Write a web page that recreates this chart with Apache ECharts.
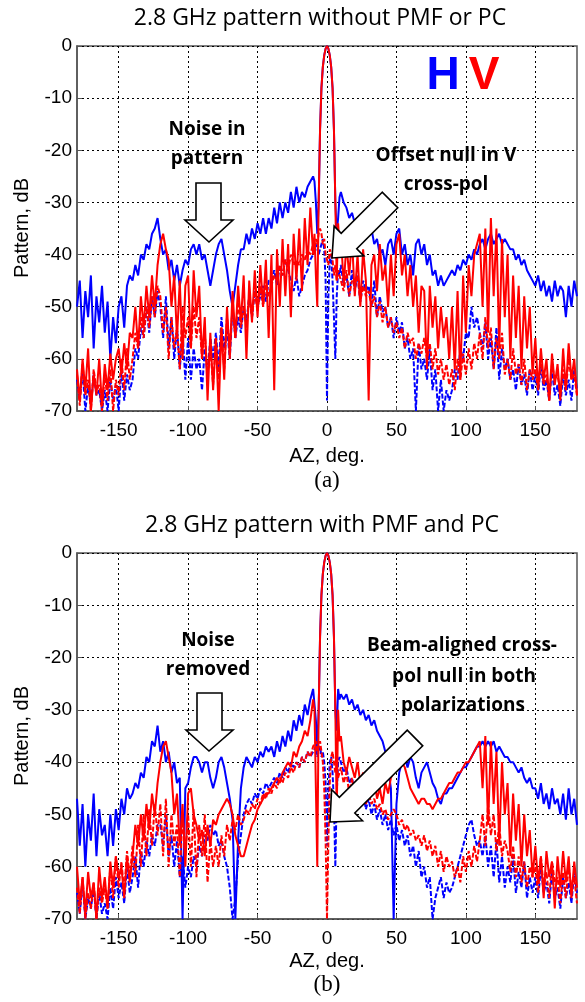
<!DOCTYPE html>
<html><head><meta charset="utf-8">
<script src="https://cdn.jsdelivr.net/npm/echarts@6/dist/echarts.min.js"></script>
<style>html,body{margin:0;padding:0;background:#fff}#c{width:585px;height:1002px}</style>
</head><body><div id="c"></div>
<script>
// Azimuth sample positions (deg)
const azDeg = [
-180,-178,-176,-174,-172,-170,-168,-166,-164,-162,
-160,-158,-156,-154,-152,-150,-148,-146,-144,-142,
-140,-138,-136,-134,-132,-130,-128,-126,-124,-122,
-120,-118,-116,-114,-112,-110,-108,-106,-104,-102,
-100,-98,-96,-94,-92,-90,-88,-86,-84,-82,
-80,-78,-76,-74,-72,-70,-68,-66,-64,-62,
-60,-58,-56,-54,-52,-50,-48,-46,-44,-42,
-40,-38,-36,-34,-32,-30,-28,-26,-24,-22,
-20,-18,-16,-14,-12,-10,
-9,-8,-7,-6,-5,-4,-3,-2,-1,0,1,2,3,4,5,6,7,8,9,
10,12,14,16,18,20,22,24,26,28,
30,32,34,36,38,40,42,44,46,48,
50,52,54,56,58,60,62,64,66,68,
70,72,74,76,78,80,82,84,86,88,
90,92,94,96,98,100,102,104,106,108,
110,112,114,116,118,120,122,124,126,128,
130,132,134,136,138,140,142,144,146,148,
150,152,154,156,158,160,162,164,166,168,
170,172,174,176,178,180];

const xTickVals = [-150,-100,-50,0,50,100,150];

// (a) without PMF or PC
const hCoA = [
-50,-45,-56,-47,-52,-44,-58,-48,-53,-46,
-55,-49,-60,-52,-57,-50,-48,-54,-46,-44,
-45,-42,-44,-40,-41,-38,-39,-36,-35,-33,
-37,-40,-39,-43,-41,-45,-42,-46,-43,-41,
-42,-39,-38,-40,-38,-41,-40,-43,-46,-43,
-40,-38,-37,-40,-43,-47,-50,-46,-42,-39,
-39,-36,-38,-35,-37,-34,-36,-33,-36,-33,
-35,-31,-34,-30,-33,-30,-32,-28,-31,-27,
-30,-28,-29,-27,-26,-25,
-26,-30,-36,-30,-16,-8,-4,-1.8,-0.5,0,-0.5,-1.8,-4,-8,-16,-30,-36,-33,-29,
-28,-30,-31,-33,-32,-34,-33,-35,-34,-37,
-36,-35,-38,-37,-40,-39,-42,-38,-37,-40,
-36,-35,-40,-38,-42,-40,-44,-38,-37,-40,
-38,-42,-40,-44,-43,-46,-44,-46,-45,-44,
-43,-44,-42,-43,-41,-42,-40,-41,-39,-40,
-38,-37,-39,-37,-36,-38,-37,-36,-38,-37,
-38,-39,-39,-41,-40,-42,-41,-43,-44,-45,
-46,-44,-47,-45,-48,-46,-49,-45,-48,-46,
-47,-52,-46,-50,-45,-48];
const vCoA = [
-62,-68,-60,-66,-58,-70,-63,-67,-60,-69,
-61,-66,-59,-64,-60,-58,-63,-57,-62,-55,
-56,-50,-58,-48,-54,-46,-52,-44,-50,-42,
-38,-36,-39,-41,-50,-44,-56,-45,-60,-46,
-44,-58,-43,-52,-46,-60,-52,-68,-55,-66,
-56,-70,-54,-64,-50,-60,-47,-56,-46,-53,
-44,-60,-45,-53,-43,-52,-42,-50,-41,-56,
-40,-66,-39,-50,-37,-48,-38,-52,-36,-45,
-35,-47,-33,-42,-31,-40,
-36,-44,-50,-30,-16,-8,-4,-1.8,-0.5,0,-0.5,-1.8,-4,-8,-16,-30,-45,-34,-38,
-36,-46,-38,-44,-37,-48,-40,-50,-39,-45,
-68,-42,-40,-47,-38,-45,-42,-50,-40,-48,
-38,-36,-44,-40,-48,-42,-50,-44,-55,-46,
-47,-62,-46,-54,-48,-58,-50,-56,-52,-60,
-50,-62,-47,-64,-44,-55,-42,-48,-40,-38,
-36,-50,-35,-55,-33,-48,-35,-58,-37,-52,
-40,-60,-44,-56,-46,-62,-48,-58,-50,-63,
-56,-66,-58,-64,-60,-68,-59,-65,-61,-68,
-58,-66,-57,-64,-60,-67];
const hXA = [
-64,-68,-62,-70,-65,-69,-63,-67,-66,-70,
-66,-70,-64,-68,-65,-70,-62,-68,-63,-66,
-64,-58,-60,-54,-56,-50,-55,-48,-52,-47,
-50,-56,-48,-58,-52,-60,-54,-62,-55,-64,
-56,-64,-58,-62,-60,-66,-58,-63,-56,-60,
-55,-62,-52,-58,-54,-60,-50,-56,-52,-55,
-50,-53,-48,-52,-47,-50,-48,-46,-49,-45,
-45,-43,-46,-42,-44,-41,-43,-45,-47,-44,
-48,-46,-44,-43,-41,-40,
-40,-39,-38,-40,-39,-38,-37,-39,-45,-68,-48,-41,-40,-45,-52,-60,-48,-43,-44,
-42,-46,-44,-48,-43,-47,-44,-49,-45,-47,
-46,-50,-45,-52,-48,-51,-50,-54,-52,-56,
-52,-55,-53,-58,-56,-60,-58,-70,-57,-62,
-60,-64,-58,-66,-62,-70,-64,-70,-66,-68,
-66,-62,-64,-58,-60,-55,-56,-50,-54,-52,
-55,-58,-53,-60,-56,-62,-54,-64,-58,-62,
-60,-64,-62,-66,-61,-65,-63,-67,-62,-66,
-63,-67,-61,-66,-64,-68,-62,-67,-65,-69,
-63,-67,-64,-68,-62,-66];
const vXA = [
-63,-69,-61,-67,-64,-70,-62,-66,-65,-70,
-63,-68,-62,-70,-64,-67,-60,-66,-58,-64,
-60,-55,-58,-52,-56,-50,-54,-48,-52,-46,
-48,-55,-50,-60,-52,-58,-54,-62,-50,-56,
-52,-58,-50,-56,-52,-60,-55,-63,-58,-65,
-56,-64,-54,-62,-52,-58,-50,-56,-49,-54,
-50,-54,-48,-52,-47,-51,-46,-50,-45,-48,
-46,-44,-45,-42,-44,-41,-43,-40,-42,-41,
-42,-40,-41,-39,-40,-38,
-39,-37,-38,-36,-35,-36,-38,-37,-40,-41,-42,-39,-40,-41,-44,-42,-45,-43,-44,
-44,-47,-43,-48,-45,-46,-44,-49,-46,-48,
-47,-50,-48,-52,-49,-53,-50,-54,-52,-55,
-53,-56,-54,-58,-55,-57,-56,-60,-57,-59,
-56,-60,-57,-62,-58,-63,-60,-64,-61,-65,
-62,-66,-60,-64,-59,-63,-58,-62,-57,-60,
-55,-60,-52,-58,-54,-62,-56,-60,-55,-63,
-60,-64,-58,-63,-61,-65,-60,-66,-62,-64,
-62,-66,-60,-65,-63,-68,-61,-64,-63,-67,
-62,-66,-60,-64,-63,-67];

// (b) with PMF and PC
const hCoB = [
-47,-56,-48,-60,-50,-55,-46,-58,-49,-54,
-52,-58,-50,-56,-49,-53,-47,-50,-45,-47,
-46,-44,-45,-42,-43,-39,-40,-36,-37,-33,
-38,-36,-40,-38,-42,-40,-44,-43,-70,-45,
-44,-41,-39,-39,-40,-42,-40,-40,-43,-45,
-43,-40,-39,-41,-44,-47,-51,-70,-55,-45,
-41,-39,-40,-41,-39,-40,-38,-39,-37,-38,
-37,-39,-36,-38,-35,-37,-34,-36,-32,-34,
-31,-33,-29,-31,-28,-26,
-26,-32,-38,-30,-16,-8,-4,-1.8,-0.5,0,-0.5,-1.8,-4,-8,-16,-30,-34,-26,-28,
-27,-28,-27,-29,-28,-30,-29,-31,-30,-32,
-31,-33,-32,-34,-35,-36,-38,-41,-45,-70,
-48,-42,-40,-39,-41,-39,-40,-43,-45,-42,
-41,-40,-42,-44,-45,-47,-48,-46,-46,-45,
-45,-44,-43,-42,-41,-41,-40,-39,-38,-37,
-37,-36,-37,-36,-37,-36,-38,-37,-38,-39,
-39,-40,-40,-41,-42,-41,-43,-44,-43,-45,
-45,-47,-44,-48,-46,-49,-45,-48,-47,-50,
-46,-51,-45,-50,-47,-52];
const vCoB = [
-60,-67,-62,-69,-61,-66,-63,-70,-60,-66,
-62,-68,-59,-64,-58,-62,-60,-66,-58,-63,
-58,-52,-56,-50,-55,-48,-53,-46,-50,-44,
-40,-37,-36,-39,-42,-50,-46,-56,-48,-60,
-46,-45,-50,-52,-55,-53,-58,-52,-56,-51,
-52,-50,-49,-48,-47,-48,-50,-54,-56,-58,
-58,-56,-54,-52,-51,-49,-48,-47,-46,-46,
-45,-44,-43,-44,-42,-41,-40,-41,-38,-39,
-37,-36,-34,-35,-32,-28,
-30,-45,-60,-30,-16,-8,-4,-1.8,-0.5,0,-0.5,-1.8,-4,-8,-16,-30,-50,-30,-36,
-35,-40,-42,-39,-41,-43,-40,-44,-42,-45,
-44,-46,-43,-47,-45,-48,-44,-46,-43,-42,
-41,-39,-40,-41,-43,-45,-46,-47,-48,-47,
-47,-48,-48,-49,-48,-47,-47,-46,-45,-44,
-44,-43,-42,-42,-41,-40,-40,-39,-38,-37,
-36,-45,-35,-52,-36,-48,-38,-56,-40,-50,
-44,-58,-46,-55,-48,-60,-50,-58,-53,-62,
-56,-63,-58,-66,-57,-62,-59,-68,-58,-64,
-57,-63,-58,-66,-59,-64];
const hXB = [
-65,-69,-63,-70,-66,-68,-64,-70,-65,-69,
-67,-70,-64,-68,-62,-66,-63,-67,-60,-65,
-62,-58,-64,-57,-60,-55,-58,-54,-56,-52,
-52,-56,-50,-58,-54,-60,-55,-62,-58,-64,
-60,-62,-58,-60,-56,-58,-54,-55,-52,-54,
-53,-56,-55,-58,-60,-64,-70,-66,-58,-54,
-50,-48,-47,-48,-46,-47,-45,-46,-44,-45,
-44,-43,-44,-42,-43,-41,-42,-40,-41,-40,
-41,-39,-40,-38,-39,-38,
-38,-37,-39,-38,-37,-39,-38,-40,-44,-56,-45,-40,-39,-42,-48,-60,-46,-40,-39,
-40,-42,-41,-44,-43,-46,-45,-48,-46,-49,
-47,-50,-48,-51,-49,-52,-50,-53,-51,-54,
-52,-55,-53,-56,-54,-58,-56,-60,-57,-62,
-60,-64,-62,-70,-66,-64,-62,-66,-63,-65,
-64,-62,-60,-58,-56,-54,-52,-51,-54,-56,
-55,-58,-54,-60,-56,-62,-55,-63,-58,-64,
-60,-63,-58,-65,-61,-64,-59,-66,-62,-65,
-62,-66,-60,-65,-63,-67,-61,-66,-64,-68,
-62,-66,-63,-67,-61,-65];
const vXB = [
-64,-69,-62,-70,-65,-68,-63,-70,-64,-67,
-64,-68,-60,-66,-58,-64,-59,-65,-57,-62,
-56,-62,-52,-60,-50,-58,-49,-56,-48,-54,
-48,-58,-47,-60,-50,-56,-52,-62,-50,-58,
-50,-60,-49,-62,-52,-58,-50,-63,-55,-60,
-56,-60,-54,-58,-52,-55,-51,-53,-50,-52,
-51,-49,-50,-48,-49,-47,-48,-46,-47,-45,
-46,-44,-45,-43,-44,-42,-43,-41,-42,-40,
-41,-39,-40,-38,-39,-37,
-37,-36,-38,-37,-36,-38,-40,-45,-55,-70,-55,-44,-39,-38,-40,-42,-41,-43,-42,
-41,-44,-42,-46,-43,-47,-44,-45,-46,-48,
-46,-48,-47,-49,-48,-50,-49,-51,-50,-49,
-50,-52,-51,-53,-52,-54,-53,-55,-54,-56,
-54,-57,-55,-58,-56,-60,-57,-61,-58,-60,
-59,-62,-60,-63,-58,-61,-57,-60,-56,-59,
-55,-50,-56,-48,-54,-50,-57,-52,-58,-55,
-57,-61,-56,-62,-58,-63,-59,-64,-60,-62,
-60,-65,-58,-64,-61,-66,-59,-63,-62,-67,
-61,-66,-60,-64,-62,-67];

const BLUE = '#0000ff', RED = '#ff0000';
const chart = echarts.init(document.getElementById('c'), null, {renderer: 'canvas'});

function pairs(v) { return azDeg.map((a, i) => [a, v[i]]); }
function mkSeries(g, name, vals, color, dashed) {
  return {
    type: 'line', name: name, xAxisIndex: g, yAxisIndex: g, data: pairs(vals),
    showSymbol: false, symbol: 'none', animation: false, silent: true, clip: true,
    lineStyle: { color: color, width: 2, type: dashed ? [5, 2] : 'solid' },
    itemStyle: { color: color }, z: 3
  };
}
const grids = [
  { left: 77, top: 46, width: 500, height: 365, show: true, borderColor: '#555', borderWidth: 1.5 },
  { left: 77, top: 553, width: 500, height: 366, show: true, borderColor: '#555', borderWidth: 1.5 }
];
const gridDot = { color: '#000', width: 1, type: [2, 3] };
const LFAM = '"Liberation Sans", Arial, sans-serif';
function mkX(g) {
  return {
    type: 'value', gridIndex: g, min: -180, max: 180,
    axisLine: { show: true, onZero: false, lineStyle: { color: '#555', width: 1.5 } },
    axisTick: { show: true, inside: true, length: 5, customValues: xTickVals, lineStyle: { color: '#555' } },
    axisLabel: { customValues: xTickVals, color: '#000', fontSize: 19, fontFamily: LFAM, margin: 10 },
    splitLine: { show: true, lineStyle: gridDot }
  };
}
function mkY(g) {
  return {
    type: 'value', gridIndex: g, min: -70, max: 0, interval: 10,
    axisLine: { show: true, onZero: false, lineStyle: { color: '#555', width: 1.5 } },
    axisTick: { show: true, inside: true, length: 5, lineStyle: { color: '#555' } },
    axisLabel: { color: '#000', fontSize: 19, fontFamily: LFAM, margin: 5 },
    splitLine: { show: true, lineStyle: gridDot }
  };
}

function arrowPts(tx, ty, px, py, s, h, L) {
  const dx = px - tx, dy = py - ty, len = Math.hypot(dx, dy);
  const ux = dx / len, uy = dy / len, nx = -uy, ny = ux;
  const bx = px - ux * L, by = py - uy * L;
  return [[tx + nx * s, ty + ny * s], [bx + nx * s, by + ny * s], [bx + nx * h, by + ny * h],
          [px, py], [bx - nx * h, by - ny * h], [bx - nx * s, by - ny * s], [tx - nx * s, ty - ny * s]];
}
function arrow(pts) {
  return { type: 'polygon', z: 100, shape: { points: pts }, style: { fill: '#fff', stroke: '#000', lineWidth: 1.6 } };
}
function txt(t, x, y, font, fill, rot) {
  const o = { type: 'text', z: 101, x: x, y: y, style: { text: t, font: font, fill: fill || '#000', align: 'center', verticalAlign: 'middle' } };
  if (rot) o.rotation = rot;
  return o;
}
const TF = '23px "Open Sans", sans-serif';
const AF = 'bold 19px "Open Sans", sans-serif';
const LF = '20px ' + LFAM;
const SF = '23px "Liberation Serif", "Times New Roman", serif';

const graphics = [
  txt('2.8 GHz pattern without PMF or PC', 320, 18, TF),
  txt('2.8 GHz pattern with PMF and PC', 322, 525, TF),
  txt('AZ, deg.', 327, 456, LF), txt('(a)', 327, 481, SF),
  txt('AZ, deg.', 327, 961, LF), txt('(b)', 327, 985, SF),
  txt('Pattern, dB', 22, 228, LF, '#000', Math.PI / 2),
  txt('Pattern, dB', 22, 736, LF, '#000', Math.PI / 2),
  txt('H', 443, 76, 'bold 46px ' + LFAM, BLUE),
  txt('V', 484, 76, 'bold 46px ' + LFAM, RED),
  txt('Noise in', 207, 130, AF), txt('pattern', 207, 159, AF),
  txt('Offset null in V', 446, 156, AF), txt('cross-pol', 446, 185, AF),
  txt('Noise', 208, 641, AF), txt('removed', 208, 670, AF),
  txt('Beam-aligned cross-', 462, 646, AF), txt('pol null in both', 464, 677, AF), txt('polarizations', 463, 706, AF),
  arrow([[196, 183], [221, 183], [221, 220], [233, 220], [209, 242], [185, 220], [196, 220]]),
  arrow([[197, 693], [222, 693], [222, 730], [233, 730], [209, 751], [186, 730], [197, 730]]),
  arrow(arrowPts(390, 200, 332, 258, 11, 21, 24)),
  arrow(arrowPts(415, 738, 330, 822, 11, 22, 24))
];

chart.setOption({
  animation: false,
  backgroundColor: '#fff',
  grid: grids,
  xAxis: [mkX(0), mkX(1)],
  yAxis: [mkY(0), mkY(1)],
  series: [
    mkSeries(0, 'H co-pol (a)', hCoA, BLUE, false),
    mkSeries(0, 'H cross-pol (a)', hXA, BLUE, true),
    mkSeries(0, 'V co-pol (a)', vCoA, RED, false),
    mkSeries(0, 'V cross-pol (a)', vXA, RED, true),
    mkSeries(1, 'H co-pol (b)', hCoB, BLUE, false),
    mkSeries(1, 'H cross-pol (b)', hXB, BLUE, true),
    mkSeries(1, 'V co-pol (b)', vCoB, RED, false),
    mkSeries(1, 'V cross-pol (b)', vXB, RED, true)
  ],
  graphic: graphics
});
</script>
</body></html>
